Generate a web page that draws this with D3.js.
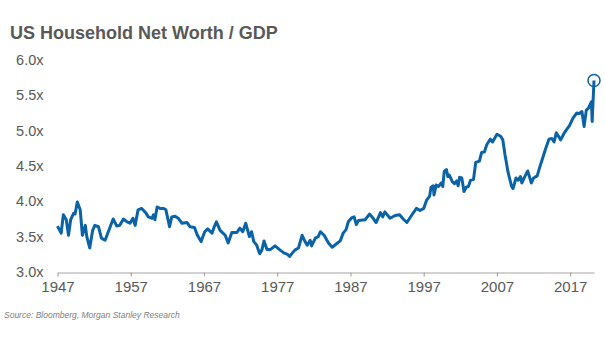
<!DOCTYPE html>
<html>
<head>
<meta charset="utf-8">
<script src="https://cdn.jsdelivr.net/npm/d3@7"></script>
<style>
  html, body { margin: 0; padding: 0; background: #fff; }
  svg { display: block; font-family: "Liberation Sans", Arial, sans-serif; }
</style>
</head>
<body>
<div id="chart"></div>
<script>
// household net worth as a multiple of GDP, quarterly-ish readings
const years = [
  1947.0, 1947.5, 1947.8, 1948.2, 1948.5, 1948.8, 1949.2, 1949.4, 1949.7, 1950.1,
  1950.4, 1950.8, 1951.0, 1951.4, 1951.8, 1952.1, 1952.6, 1953.0, 1953.5, 1954.2,
  1954.6, 1955.1, 1955.5, 1956.0, 1956.5, 1956.9, 1957.3, 1957.6, 1958.0, 1958.5,
  1959.1, 1959.4, 1959.9, 1960.1, 1960.3, 1960.6, 1961.0, 1961.5, 1961.8, 1962.3,
  1962.6, 1963.0, 1963.5, 1964.0, 1964.7, 1965.1, 1965.7, 1966.1, 1966.6, 1967.1,
  1967.5, 1968.1, 1968.4, 1968.7, 1969.2, 1969.9, 1970.3, 1970.8, 1971.5, 1971.9,
  1972.3, 1972.7, 1973.2, 1973.5, 1973.8, 1974.2, 1974.6, 1974.9, 1975.2, 1975.6,
  1976.1, 1976.7, 1977.4, 1977.9, 1978.4, 1978.7, 1979.0, 1979.4, 1979.9, 1980.4,
  1980.8, 1981.1, 1981.5, 1981.7, 1982.2, 1982.6, 1982.9, 1983.4, 1984.0, 1984.5,
  1985.1, 1985.6, 1986.0, 1986.4, 1986.7, 1987.2, 1987.5, 1987.8, 1988.1, 1989.0,
  1989.6, 1990.1, 1990.5, 1991.1, 1991.4, 1991.7, 1992.4, 1993.1, 1993.7, 1994.2,
  1994.7, 1995.4, 1996.0, 1996.5, 1997.0, 1997.4, 1997.8, 1998.0, 1998.3, 1998.4,
  1998.7, 1999.0, 1999.4, 1999.6, 1999.8, 2000.1, 2000.3, 2000.5, 2000.9, 2001.2,
  2001.5, 2001.7, 2001.9, 2002.2, 2002.5, 2002.8, 2003.1, 2003.4, 2003.8, 2004.1,
  2004.6, 2004.9, 2005.3, 2005.6, 2006.1, 2006.4, 2007.0, 2007.5, 2007.8, 2008.1,
  2008.5, 2009.0, 2009.2, 2009.6, 2009.9, 2010.2, 2010.4, 2010.8, 2011.2, 2011.7,
  2012.0, 2012.5, 2012.8, 2013.3, 2013.6, 2014.1, 2014.5, 2014.8, 2015.1, 2015.4,
  2015.7, 2016.2, 2016.6, 2016.9, 2017.4, 2017.9, 2018.2, 2018.6, 2018.9, 2019.2,
  2019.5, 2019.9, 2020.0, 2020.25
];
const ratio = [
  3.65, 3.55, 3.81, 3.74, 3.52, 3.74, 3.83, 3.82, 3.99, 3.88,
  3.52, 3.66, 3.50, 3.34, 3.59, 3.66, 3.64, 3.48, 3.45, 3.64,
  3.75, 3.65, 3.66, 3.75, 3.71, 3.69, 3.76, 3.66, 3.88, 3.90,
  3.83, 3.78, 3.76, 3.81, 3.74, 3.92, 3.90, 3.90, 3.88, 3.64,
  3.78, 3.79, 3.76, 3.69, 3.70, 3.64, 3.63, 3.52, 3.43, 3.57,
  3.61, 3.55, 3.64, 3.71, 3.59, 3.52, 3.41, 3.56, 3.56, 3.62,
  3.57, 3.69, 3.50, 3.57, 3.43, 3.38, 3.26, 3.31, 3.44, 3.32,
  3.32, 3.37, 3.31, 3.27, 3.25, 3.22, 3.26, 3.31, 3.34, 3.52,
  3.43, 3.38, 3.45, 3.37, 3.48, 3.50, 3.57, 3.52, 3.41, 3.35,
  3.40, 3.44, 3.55, 3.60, 3.71, 3.77, 3.78, 3.67, 3.73, 3.74,
  3.82, 3.76, 3.70, 3.84, 3.78, 3.85, 3.76, 3.80, 3.81, 3.75,
  3.70, 3.81, 3.90, 3.87, 3.90, 4.02, 4.07, 4.20, 4.22, 4.09,
  4.23, 4.21, 4.26, 4.21, 4.42, 4.45, 4.35, 4.37, 4.28, 4.25,
  4.29, 4.22, 4.34, 4.33, 4.14, 4.20, 4.21, 4.30, 4.31, 4.55,
  4.57, 4.69, 4.70, 4.80, 4.88, 4.84, 4.95, 4.92, 4.87, 4.66,
  4.42, 4.21, 4.18, 4.33, 4.30, 4.35, 4.26, 4.35, 4.43, 4.26,
  4.33, 4.36, 4.47, 4.63, 4.73, 4.88, 4.89, 4.84, 4.97, 4.92,
  4.87, 4.97, 5.03, 5.07, 5.18, 5.25, 5.24, 5.27, 5.06, 5.29,
  5.32, 5.41, 5.13, 5.71
];
const yTicks = [3.0, 3.5, 4.0, 4.5, 5.0, 5.5, 6.0];
const xTicks = [1947, 1957, 1967, 1977, 1987, 1997, 2007, 2017];

const width = 605;
const height = 341;
const blue = '#0b63a7';
const grey = '#595959';

const svg = d3.select('#chart')
  .append('svg')
  .attr('width', width)
  .attr('height', height);

const x = d3.scaleLinear()
  .domain([1947, 2020.25])
  .range([57.5, 594]);

const y = d3.scaleLinear()
  .domain([3, 6])
  .range([272, 60]);

// title
svg.append('text')
  .attr('x', 10)
  .attr('y', 38.5)
  .attr('fill', grey)
  .attr('font-size', 18)
  .attr('font-weight', 'bold')
  .text('US Household Net Worth / GDP');

// y labels only, no axis line
svg.append('g')
  .selectAll('text')
  .data(yTicks)
  .enter()
  .append('text')
  .attr('x', 43.5)
  .attr('y', d => y(d))
  .attr('dy', '0.35em')
  .attr('text-anchor', 'end')
  .attr('fill', grey)
  .attr('font-size', 14.5)
  .text(d => d.toFixed(1) + 'x');

// x axis
const xAxis = svg.append('g')
  .attr('transform', 'translate(0,' + 272.5 + ')')
  .call(d3.axisBottom(x)
    .tickValues(xTicks)
    .tickFormat(d3.format('d'))
    .tickSize(4)
    .tickSizeOuter(0)
    .tickPadding(5));

xAxis.select('.domain').attr('stroke', '#a6a6a6').attr('stroke-width', 1.2);
xAxis.selectAll('.tick line').attr('stroke', '#a6a6a6').attr('stroke-width', 1.2);
xAxis.selectAll('.tick text')
  .attr('fill', grey)
  .attr('font-size', 15)
  .attr('font-family', '"Liberation Sans", Arial, sans-serif');

const points = years.map((yr, i) => [yr, ratio[i]]);

const line = d3.line()
  .x(d => x(d[0]))
  .y(d => y(d[1]));

svg.append('path')
  .datum(points)
  .attr('fill', 'none')
  .attr('stroke', blue)
  .attr('stroke-width', 3)
  .attr('stroke-linejoin', 'round')
  .attr('d', line);

// ring around the latest reading
const last = points[points.length - 1];
svg.append('circle')
  .attr('cx', x(last[0]))
  .attr('cy', y(last[1]))
  .attr('r', 6)
  .attr('fill', 'none')
  .attr('stroke', blue)
  .attr('stroke-width', 1.5);

// source note
svg.append('text')
  .attr('x', 4)
  .attr('y', 318)
  .attr('fill', '#808080')
  .attr('font-size', 8.5)
  .attr('font-style', 'italic')
  .text('Source: Bloomberg, Morgan Stanley Research');
</script>
</body>
</html>
